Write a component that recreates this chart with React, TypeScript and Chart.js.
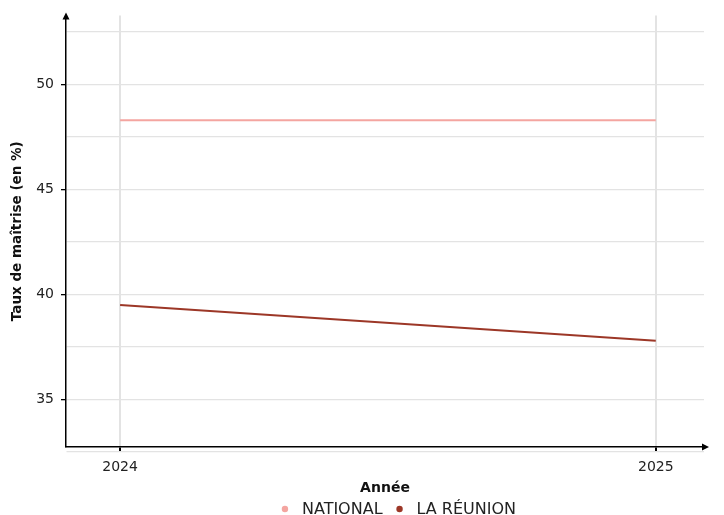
import React, { useEffect, useRef } from "react";
import { Chart, registerables } from "chart.js";

Chart.register(...registerables);

const years = [2024, 2025];
const nationalValues = [48.3, 48.3];
const reunionValues = [39.5, 37.8];
const seriesLabels = ["NATIONAL", "LA RÉUNION"];
const seriesColors = ["#f4a5a0", "#9c3727"];
const yTicks = [32.5, 35, 37.5, 40, 42.5, 45, 47.5, 50, 52.5];
const FONT = "'DejaVu Sans', sans-serif";

export default function App() {
  const ref = useRef<HTMLCanvasElement | null>(null);

  useEffect(() => {
    const canvas = ref.current;
    if (!canvas) return;

    const decor = {
      id: "decor",
      afterDraw(chart: any) {
        const { ctx, chartArea } = chart;
        ctx.save();
        ctx.fillStyle = "#000";
        // y arrow
        ctx.beginPath();
        ctx.moveTo(chartArea.left, chartArea.top - 3);
        ctx.lineTo(chartArea.left - 3.5, chartArea.top + 4);
        ctx.lineTo(chartArea.left + 3.5, chartArea.top + 4);
        ctx.closePath();
        ctx.fill();
        // x arrow
        ctx.beginPath();
        ctx.moveTo(chartArea.right + 5, chartArea.bottom);
        ctx.lineTo(chartArea.right - 2, chartArea.bottom - 3.5);
        ctx.lineTo(chartArea.right - 2, chartArea.bottom + 3.5);
        ctx.closePath();
        ctx.fill();
        // legend
        ctx.font = `16px ${FONT}`;
        ctx.textBaseline = "middle";
        ctx.textAlign = "left";
        const y = 509;
        const gap = 14;
        const widths = seriesLabels.map((l) => 20 + ctx.measureText(l).width);
        const total = widths.reduce((a, b) => a + b, 0) + gap;
        let x = 399 - total / 2;
        seriesLabels.forEach((lab, i) => {
          ctx.fillStyle = seriesColors[i];
          ctx.beginPath();
          ctx.arc(x + 3, y, 3.2, 0, Math.PI * 2);
          ctx.fill();
          ctx.fillStyle = "#222";
          ctx.fillText(lab, x + 20, y + 1);
          x += widths[i] + gap;
        });
        ctx.restore();
      },
    };

    const chart = new Chart(canvas, {
      type: "line",
      data: {
        datasets: [
          {
            label: seriesLabels[0],
            data: years.map((y, i) => ({ x: y, y: nationalValues[i] })),
            borderColor: seriesColors[0],
            backgroundColor: seriesColors[0],
            borderWidth: 2,
            pointRadius: 0,
          },
          {
            label: seriesLabels[1],
            data: years.map((y, i) => ({ x: y, y: reunionValues[i] })),
            borderColor: seriesColors[1],
            backgroundColor: seriesColors[1],
            borderWidth: 2,
            pointRadius: 0,
          },
        ],
      },
      options: {
        responsive: false,
        animation: false,
        layout: { padding: { left: 0, right: 20, top: 12, bottom: 12 } },
        plugins: {
          legend: { display: false },
          tooltip: { enabled: false },
        },
        scales: {
          x: {
            type: "linear",
            min: 2023.899,
            max: 2025.09,
            afterBuildTicks: (s: any) => {
              s.ticks = years.map((v) => ({ value: v }));
            },
            afterFit: (s: any) => {
              s.height = 56;
            },
            ticks: {
              callback: (v: any) => String(v),
              color: "#222",
              font: { family: FONT, size: 14 },
              padding: 7,
              maxRotation: 0,
            },
            grid: {
              color: "#e3e3e3",
              lineWidth: 2,
              tickColor: "#000",
              tickLength: 5,
              drawTicks: true,
            },
            border: { color: "#000", width: 1.5 },
            title: {
              display: true,
              text: "Année",
              color: "#111",
              font: { family: FONT, size: 14, weight: "bold" },
              padding: { top: 0, bottom: 6 },
            },
          },
          y: {
            type: "linear",
            min: 32.74,
            max: 53.29,
            afterBuildTicks: (s: any) => {
              s.ticks = yTicks.map((v) => ({ value: v }));
            },
            afterFit: (s: any) => {
              s.width = 66;
            },
            ticks: {
              callback: (v: any) => (v % 5 === 0 ? String(v) : ""),
              color: "#222",
              font: { family: FONT, size: 14 },
              padding: 7,
            },
            grid: {
              color: "#e3e3e3",
              lineWidth: 1.3,
              tickColor: (c: any) =>
                c.tick && c.tick.value % 5 === 0 ? "#000" : "rgba(0,0,0,0)",
              tickLength: 5,
            },
            border: { color: "#000", width: 1.5 },
            title: {
              display: true,
              text: "Taux de maîtrise (en %)",
              color: "#111",
              font: { family: FONT, size: 13.5, weight: "bold" },
              padding: { top: 9, bottom: 0 },
            },
          },
        },
      },
      plugins: [decor],
    } as any);

    return () => chart.destroy();
  }, []);

  return (
    <div style={{ position: "absolute", left: 0, top: 0, width: 724, height: 515, background: "#fff" }}>
      <canvas ref={ref} width={724} height={515} />
    </div>
  );
}
